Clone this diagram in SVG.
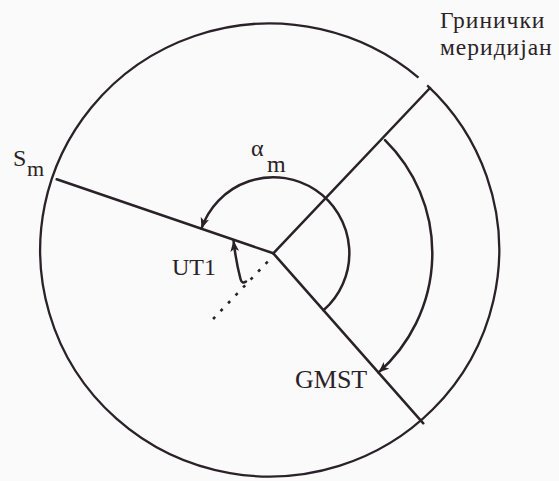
<svg xmlns="http://www.w3.org/2000/svg" width="559" height="481" viewBox="0 0 559 481">
<style>
.ln{fill:none;stroke:#2a2228;stroke-width:2.5;stroke-linecap:round}
.cr{fill:none;stroke:#2a2228;stroke-width:2.3}
.t{font-family:"Liberation Serif","Times New Roman",serif;fill:#2a2228}
.g{font-size:23.5px;letter-spacing:1px}
</style>
<defs>
<marker id="ah" viewBox="0 0 10 8" refX="10" refY="4" markerWidth="11" markerHeight="9" markerUnits="userSpaceOnUse" orient="auto">
<path d="M0,0 L10,4 L0,8 L2.5,4 z" fill="#2a2228"/>
</marker>
</defs>
<rect width="559" height="481" fill="#fafafa"/>
<g id="circle">
<path class="cr" d="M427.2,85.3 A229.5,226.5 0 1 1 418.5,77.6"/>
</g>
<g id="connectors">
<line class="ln" x1="273.3" y1="253.3" x2="430" y2="88"/>
<line class="ln" x1="273.3" y1="253.3" x2="56.7" y2="179.3"/>
<line class="ln" x1="273.3" y1="253.3" x2="423.3" y2="423.3"/>
<line x1="267.7" y1="261.6" x2="213.1" y2="319" stroke="#2a2228" stroke-width="2.6" stroke-dasharray="3 7.9"/>
<path class="ln" d="M323.5,310.3 A76,76 0 1 0 201.4,228.7" marker-end="url(#ah)"/>
<path class="ln" d="M385,140.1 A159,159 0 0 1 378.4,372.6" marker-end="url(#ah)"/>
<path class="ln" d="M246,281.5 Q242,284.5 240.5,279 Q236,262 233.5,240.5" marker-end="url(#ah)"/>
</g>
<g id="label-greenwich">
<text class="t g" x="440" y="28">Гринички</text>
<text class="t g" x="440" y="55">меридијан</text>
</g>
<g id="label-sm">
<text class="t" x="13" y="166" font-size="24">S</text>
<text class="t" x="27" y="176" font-size="22">m</text>
</g>
<g id="label-alpha">
<text class="t" x="251" y="156" font-size="24">α</text>
<text class="t" x="267" y="172" font-size="24">m</text>
</g>
<g id="label-ut1">
<text class="t" x="172" y="275" font-size="24">UT1</text>
</g>
<g id="label-gmst">
<text class="t" x="295" y="388" font-size="26">GMST</text>
</g>
</svg>
